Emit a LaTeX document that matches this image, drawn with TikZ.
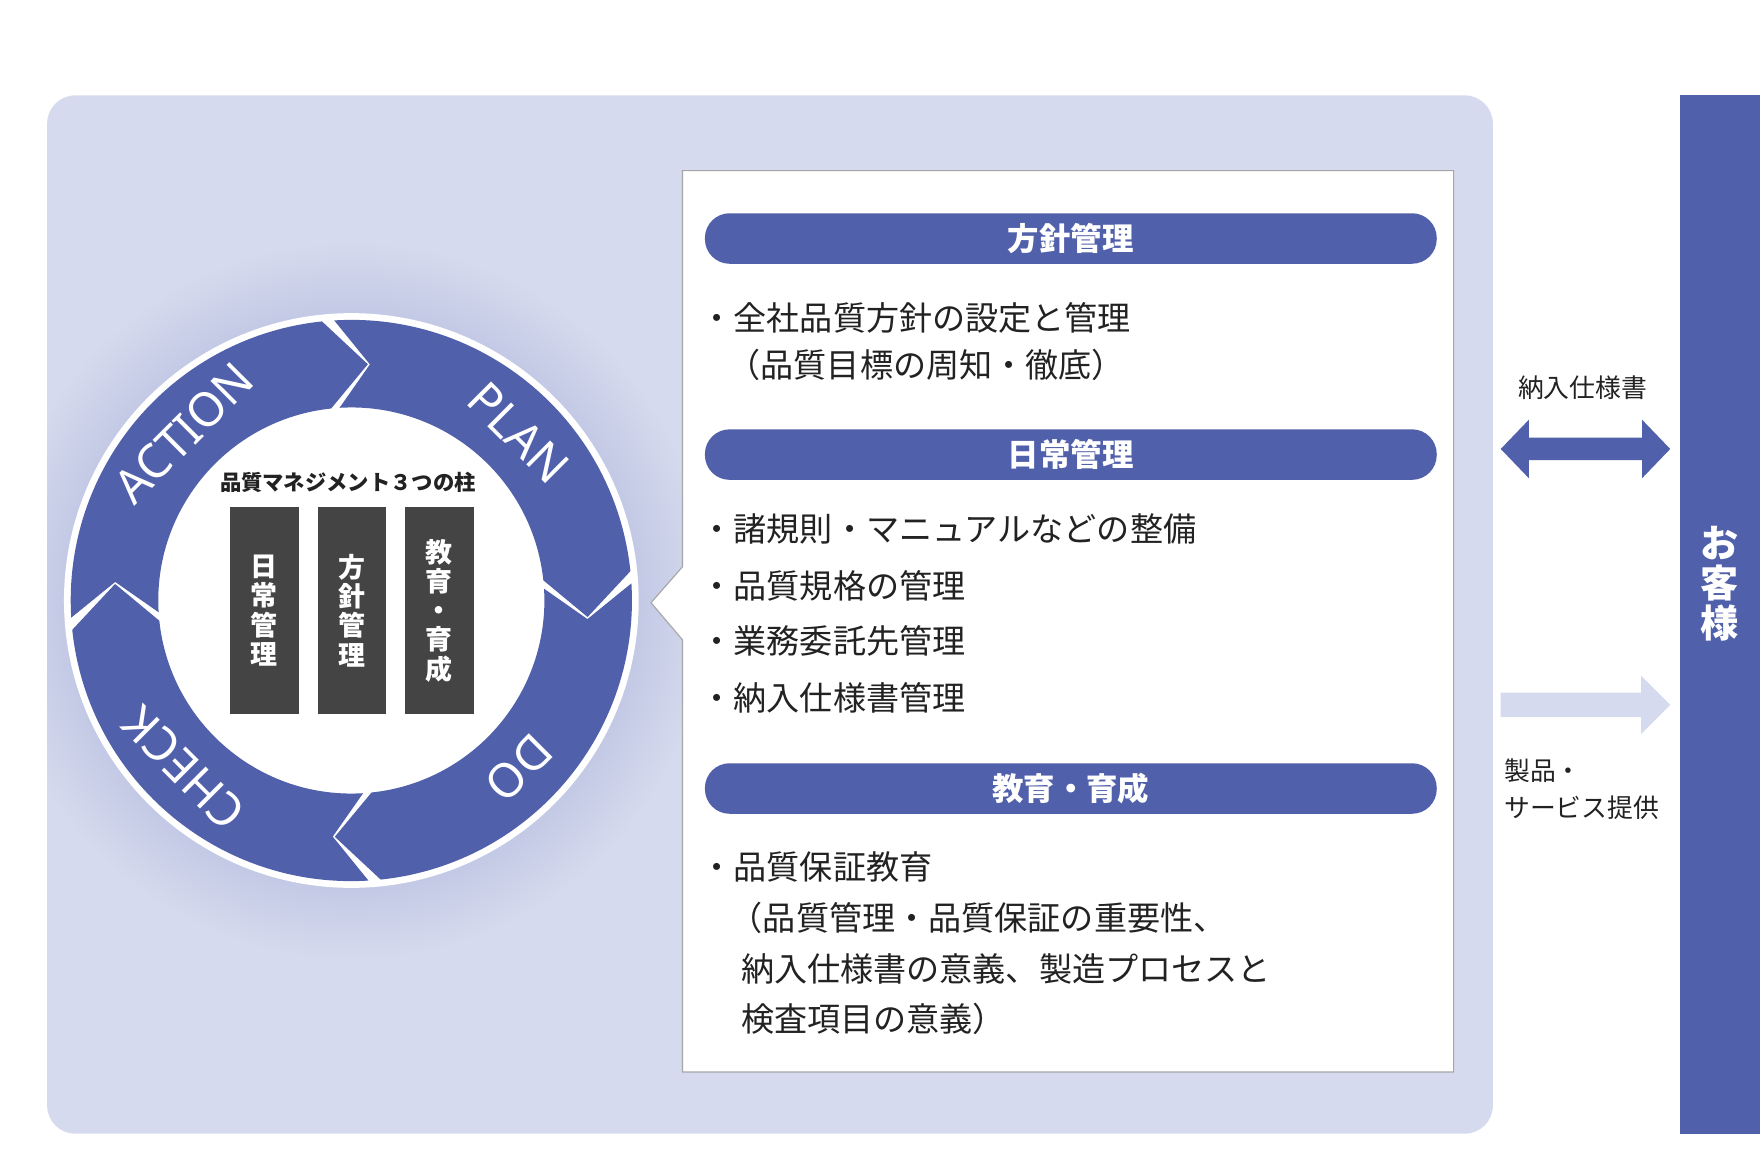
\documentclass[tikz,border=0pt]{standalone}
\usepackage{fontspec}
\setmainfont{Noto Sans CJK JP}
\newfontfamily\ringfont{Noto Sans}
\usetikzlibrary{calc}
\definecolor{bg}{HTML}{D5DAEE}
\definecolor{main}{HTML}{5160AB}
\definecolor{dk}{HTML}{444444}
\definecolor{tx}{HTML}{222222}
\tikzset{
 hdr/.style={fill=main,rounded corners=22pt,minimum width=652pt,minimum height=45pt,text=white,font=\fontsize{28}{30}\selectfont\bfseries},
 body/.style={anchor=west,text=tx,font=\fontsize{29.5}{30}\selectfont,inner sep=0pt},
 pill/.style={fill=dk,minimum width=61pt,minimum height=184pt,text=white,align=center,font=\fontsize{24}{26}\selectfont\bfseries,inner sep=0pt},
 ringtxt/.style={text=white,font=\ringfont\fontsize{42}{42}\selectfont},
 seg/.style={fill=main}
}
\begin{document}
\begin{tikzpicture}[x=1pt,y=1pt]
\useasboundingbox (0,0) rectangle (1568,1044);
\fill[bg,rounded corners=25pt] (42,34) rectangle (1330,959);
% glow
\begin{scope}
\clip[rounded corners=25pt] (42,34) rectangle (1330,959);
\shade[inner color=main!75,outer color=bg] (313,509) circle (320);
\end{scope}
% white box
\draw[fill=white,draw=gray!70,line width=1pt] (608,89) -- (608,474) -- (580,507) -- (608,539) -- (608,892) -- (1295,892) -- (1295,89) -- cycle;
\node[hdr] (h1) at (954,831.5) {方針管理};
\node[hdr] (h2) at (954,639) {日常管理};
\node[hdr] (h3) at (954,341.5) {教育・育成};
\node[body] (t1) at (624,761) {・全社品質方針の設定と管理};
\node[body] (t2) at (648,719) {（品質目標の周知・徹底）};
\node[body] (t3) at (624,573) {・諸規則・マニュアルなどの整備};
\node[body] (t4) at (624,522) {・品質規格の管理};
\node[body] (t5) at (624,473) {・業務委託先管理};
\node[body] (t6) at (624,422) {・納入仕様書管理};
\node[body] (t7) at (624,272) {・品質保証教育};
\node[body] (t8) at (650,226) {（品質管理・品質保証の重要性、};
\node[body] (t9) at (660,181) {納入仕様書の意義、製造プロセスと};
\node[body] (t10) at (660,136) {検査項目の意義）};
% right bar
\fill[main] (1497,34) rectangle (1568,959);
\node[text=white,align=center,font=\fontsize{34}{36}\selectfont\bfseries] (cust) at (1532,524) {お\\客\\様};
% arrows
\fill[main] (1337,644) -- (1362,670) -- (1362,654) -- (1463,654) -- (1463,670) -- (1488,644) -- (1463,618) -- (1463,634) -- (1362,634) -- (1362,618) -- cycle;
\node[text=tx,font=\fontsize{23}{24}\selectfont] (l1) at (1410,699) {納入仕様書};
\fill[bg] (1337,427) -- (1462,427) -- (1462,442) -- (1488,416) -- (1462,390) -- (1462,405) -- (1337,405) -- cycle;
\node[anchor=west,text=tx,font=\fontsize{23}{24}\selectfont,inner sep=0pt] (l2) at (1340,357) {製品・};
\node[anchor=west,text=tx,font=\fontsize{23}{24}\selectfont,inner sep=0pt] (l3) at (1340,324) {サービス提供};
% cycle
\begin{scope}[shift={(313,509)}]
\fill[white] (0,0) circle (256);
\def\ro{250}\def\ri{172}\def\rm{211}
\foreach \s/\e in {95/5,5/-85,-85/-175,-175/-265}{
 \fill[seg] (\s-1.5:\ro) arc[start angle=\s-1.5,end angle=\e+1,radius=\ro] -- (\e-9:\rm) -- (\e+1:\ri) arc[start angle=\e+1,end angle=\s-1.5,radius=\ri] -- (\s-9.5:\rm) -- cycle;
}
\node[ringtxt,rotate=45] (ac) at (135:\rm) {ACTION};
\node[ringtxt,rotate=-45] (pl) at (45:\rm) {PLAN};
\node[ringtxt,rotate=-135] (do) at (-45:\rm) {DO};
\node[ringtxt,rotate=135] (ch) at (-135:\rm) {CHECK};
\end{scope}
\node[font=\fontsize{19}{20}\selectfont\bfseries,text=tx] (ttl) at (310,614) {品質マネジメント３つの柱};
\node[pill] (p1) at (235.5,500) {日\\常\\管\\理};
\node[pill] (p2) at (313.5,500) {方\\針\\管\\理};
\node[pill] (p3) at (391.5,500) {教\\育\\・\\育\\成};
\end{tikzpicture}
\end{document}
